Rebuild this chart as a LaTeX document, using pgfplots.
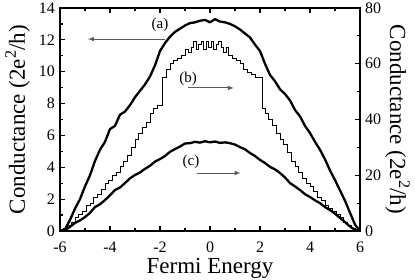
\documentclass[border=0pt]{standalone}
\usepackage{fontspec}
\setmainfont{Liberation Serif}
\usepackage{pgfplots}
\pgfplotsset{compat=1.18}
\begin{document}
\begin{tikzpicture}
\pgfplotsset{
  base/.style={
    scale only axis, width=300pt, height=223pt,
    xmin=-6, xmax=6, at={(0,0)}, anchor=south west,
    /pgf/number format/assume math mode=true,
    major tick length=5pt, minor tick length=3pt,
    every tick/.style={line width=1.2pt, black},
    tick label style={font=\fontsize{16}{18}\selectfont},
    axis line style={line width=2.4pt},
  }
}
\begin{axis}[base,
  ymin=0, ymax=14, ytick={0,2,...,14}, minor y tick num=1,
  xtick={-6,-4,...,6}, minor x tick num=1,
  ytick pos=left, xtick pos=both, tick align=inside,
  xticklabel style={anchor=base, inner sep=0pt, yshift=-21.5pt, text depth=0pt},
  yticklabel style={anchor=east, inner sep=0pt, xshift=-5pt},
  xlabel={Fermi Energy},
  every axis x label/.style={at={(axis description cs:0.5,-0.19)}, anchor=base, inner sep=0pt, text height=15pt, font=\fontsize{23}{26}\selectfont},
  ylabel={Conductance (2e\textsuperscript{2}/h)},
  every axis y label/.style={at={(axis description cs:-0.1167,0.5)}, rotate=90, anchor=base, font=\fontsize{23}{26}\selectfont},
]
\addplot[black, line width=2.3pt, line join=round] coordinates {
(-6.0,0) (-5.8,0.1) (-5.6,0.7) (-5.4,1.4) (-5.2,2.0) (-5.0,2.8) (-4.8,3.5) (-4.6,4.4)
(-4.4,5.1) (-4.2,5.6) (-4.0,6.4) (-3.8,6.6) (-3.6,7.3) (-3.4,7.5) (-3.2,7.9) (-3.0,8.4)
(-2.8,8.8) (-2.6,9.2) (-2.4,9.7) (-2.2,10.4) (-2.0,11.3) (-1.8,11.8) (-1.6,12.2) (-1.4,12.5)
(-1.2,12.7) (-1.0,12.9) (-0.8,13.05) (-0.6,13.1) (-0.4,13.2) (-0.2,13.25) (0.0,13.1) (0.2,13.3)
(0.4,13.15) (0.6,13.1) (0.8,13.0) (1.0,12.85) (1.2,12.65) (1.4,12.4) (1.6,12.15) (1.8,11.7)
(2.0,11.3) (2.2,10.5) (2.4,9.8) (2.6,9.4) (2.8,8.9) (3.0,8.6) (3.2,8.2) (3.4,7.6)
(3.6,7.2) (3.8,6.6) (4.0,6.15) (4.2,5.6) (4.4,5.1) (4.6,4.5) (4.8,3.8) (5.0,3.2)
(5.2,2.55) (5.4,1.9) (5.6,1.15) (5.8,0.4) (6.0,0)
};
\node[font=\fontsize{15}{17}\selectfont] at (axis cs:-2.0,12.95) {(a)};
\draw[black!65, line width=1pt, -latex] (axis cs:-1.8,12.05) -- (axis cs:-4.88,12.05);
\node[font=\fontsize{15}{17}\selectfont] at (axis cs:-0.88,9.54) {(b)};
\draw[black!65, line width=1pt, -latex] (axis cs:-0.88,8.98) -- (axis cs:0.95,8.98);
\node[font=\fontsize{15}{17}\selectfont] at (axis cs:-0.76,4.33) {(c)};
\draw[black!65, line width=1pt, -latex] (axis cs:-0.52,3.64) -- (axis cs:1.22,3.64);
\end{axis}
\begin{axis}[base,
  ymin=0, ymax=80, ytick={0,20,...,80}, minor y tick num=1,
  axis y line*=right, hide x axis, ytick align=inside,
  yticklabel style={anchor=west, inner sep=0pt, xshift=5pt},
  ylabel={Conductance (2e\textsuperscript{2}/h)},
  every axis y label/.style={at={(axis description cs:1.1,0.5)}, rotate=-90, anchor=base, font=\fontsize{23}{26}\selectfont},
]
\addplot[black, line width=1pt, const plot] coordinates {
(-6.0,0) (-5.85,1) (-5.7,2) (-5.55,3) (-5.4,5) (-5.25,6) (-5.1,7) (-4.95,9) (-4.8,10)
(-4.65,12) (-4.5,13) (-4.35,15) (-4.2,17) (-4.05,18) (-3.9,20) (-3.75,21) (-3.6,23)
(-3.45,25) (-3.3,27) (-3.15,30) (-3.0,33) (-2.85,35) (-2.7,37) (-2.55,39) (-2.4,42)
(-2.25,44) (-2.1,45) (-1.92,55) (-1.75,58) (-1.6,60) (-1.45,61) (-1.3,62) (-1.15,63)
(-1.0,65) (-0.85,64) (-0.75,66) (-0.65,68) (-0.55,65) (-0.45,67) (-0.35,68) (-0.25,65)
(-0.15,68) (-0.05,66) (0.05,68) (0.15,65) (0.25,67) (0.35,68) (0.45,66) (0.55,64)
(0.65,66) (0.75,63) (0.9,62) (1.05,61) (1.2,60) (1.35,58) (1.5,57) (1.65,56) (1.8,55)
(2.08,44) (2.2,42) (2.35,40) (2.5,38) (2.65,35) (2.8,33) (2.95,31) (3.1,28) (3.25,25)
(3.4,23) (3.55,21) (3.7,19) (3.85,17) (4.0,16) (4.15,14) (4.3,12) (4.45,11) (4.6,9)
(4.75,8) (4.9,7) (5.05,6) (5.2,5) (5.35,3) (5.5,2) (5.65,1) (5.8,0) (6.0,0)
};
\addplot[black, line width=2.3pt, line join=round] coordinates {
(-6.0,0) (-5.8,0.3) (-5.6,1.5) (-5.4,2.9) (-5.2,3.8) (-5.0,5.0) (-4.8,6.5) (-4.6,8.6)
(-4.4,9.6) (-4.2,11.1) (-4.0,12.8) (-3.8,14.7) (-3.6,15.6) (-3.4,17.2) (-3.2,18.9) (-3.0,20.1)
(-2.8,21.0) (-2.6,22.3) (-2.4,23.4) (-2.2,24.9) (-2.0,25.8) (-1.8,26.9) (-1.6,28.4) (-1.4,29.4)
(-1.2,30.3) (-1.0,31.4) (-0.8,31.5) (-0.6,32.0) (-0.4,31.7) (-0.2,32.2) (0.0,31.8) (0.2,32.1)
(0.4,31.6) (0.6,31.8) (0.8,31.5) (1.0,31.0) (1.2,30.1) (1.4,29.3) (1.6,28.0) (1.8,26.9)
(2.0,25.5) (2.2,24.4) (2.4,23.0) (2.6,22.1) (2.8,20.8) (3.0,19.2) (3.2,17.2) (3.4,16.0)
(3.6,14.7) (3.8,13.2) (4.0,12.2) (4.2,11.0) (4.4,10.0) (4.6,8.6) (4.8,7.5) (5.0,6.2)
(5.2,4.7) (5.4,3.2) (5.6,1.6) (5.8,0.4) (6.0,0)
};
\end{axis}
\pgfresetboundingbox
\path (-60pt,-48pt) rectangle (355pt,231pt);
\end{tikzpicture}
\end{document}
